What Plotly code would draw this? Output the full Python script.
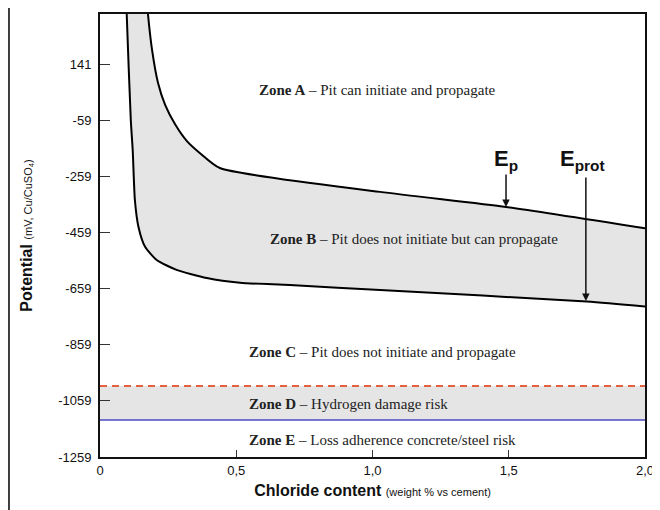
import plotly.graph_objects as go

# ---- data ----
ep_x = [0.172, 0.176, 0.191, 0.213, 0.239, 0.275, 0.319, 0.367, 0.440, 1.028, 1.49, 2.0]
ep_y = [370, 320, 192, 74, -4, -72, -133, -176, -229, -314, -368, -444]

eprot_x = [0.0965, 0.098, 0.113, 0.120, 0.128, 0.141, 0.165, 0.208, 0.281, 0.392, 0.514, 0.697, 1.028, 1.786, 2.0]
eprot_y = [370, 320, -58, -165, -343, -438, -509, -557, -592, -621, -638, -646, -664, -705, -723]

band_x = [0, 2.0]
hydrogen_limit = -1006      # red dashed line
adherence_limit = -1127     # blue line

x_tickvals = [0, 0.5, 1.0, 1.5, 2.0]
x_ticktext = ["0", "0,5", "1,0", "1,5", "2,0"]
y_tickvals = [141, -59, -259, -459, -659, -859, -1059, -1259]
y_ticktext = ["141", "-59", "-259", "-459", "-659", "-859", "-1059", "-1259"]

zone_labels = [
    ("<b>Zone A</b> – Pit can initiate and propagate", 0.576, 49),
    ("<b>Zone B</b> – Pit does not initiate but can propagate", 0.617, -482),
    ("<b>Zone C</b> – Pit does not initiate and propagate", 0.539, -885),
    ("<b>Zone D</b> – Hydrogen damage risk", 0.539, -1070),
    ("<b>Zone E</b> – Loss adherence concrete/steel risk", 0.539, -1198),
]

ep_arrow = dict(x=1.49, head=-368, tail=-247, label_y=-200)
eprot_arrow = dict(x=1.783, head=-703, tail=-257, label_y=-200, label_x=1.772)

GRAY = "#e5e5e5"

fig = go.Figure()

# Zone B fill between curves
fig.add_trace(go.Scatter(x=eprot_x, y=eprot_y, mode="lines",
                         line=dict(color="black", width=2, shape="spline", smoothing=0.6),
                         showlegend=False, hoverinfo="skip"))
fig.add_trace(go.Scatter(x=ep_x, y=ep_y, mode="lines", fill="tonexty", fillcolor=GRAY,
                         line=dict(color="black", width=2, shape="spline", smoothing=0.6),
                         showlegend=False, hoverinfo="skip"))

# Zone D band
fig.add_trace(go.Scatter(x=band_x, y=[adherence_limit] * 2, mode="lines",
                         line=dict(color="#4b4bc4", width=1.5),
                         showlegend=False, hoverinfo="skip"))
fig.add_trace(go.Scatter(x=band_x, y=[hydrogen_limit] * 2, mode="lines", fill="tonexty",
                         fillcolor=GRAY,
                         line=dict(color="#e5603f", width=2, dash="7px,5px"),
                         showlegend=False, hoverinfo="skip"))

annotations = []
for txt, x, y in zone_labels:
    annotations.append(dict(x=x, y=y, xref="x", yref="y", text=txt, showarrow=False,
                            xanchor="left", yanchor="middle",
                            font=dict(family="Liberation Serif", size=15, color="#222")))

# arrows
for a in (ep_arrow, eprot_arrow):
    annotations.append(dict(x=a["x"], y=a["head"], ax=a["x"], ay=a["tail"], xref="x", yref="y",
                            axref="x", ayref="y", text="", showarrow=True, arrowhead=2,
                            arrowsize=1, arrowwidth=1.5, arrowcolor="#111", standoff=0))

annotations.append(dict(x=ep_arrow["x"], y=ep_arrow["label_y"], xref="x", yref="y",
                        text="<b>E<sub>p</sub></b>", showarrow=False,
                        font=dict(family="Liberation Sans", size=22, color="#111")))
annotations.append(dict(x=eprot_arrow["label_x"], y=eprot_arrow["label_y"], xref="x", yref="y",
                        text="<b>E<sub>prot</sub></b>", showarrow=False,
                        font=dict(family="Liberation Sans", size=22, color="#111")))

# page body has an 8px margin, so the figure is 8px smaller than the window
fig.update_layout(
    width=652, height=502,
    margin=dict(l=92, r=15, t=6, b=53),
    paper_bgcolor="white", plot_bgcolor="white",
    font=dict(family="Liberation Sans", size=13, color="#111"),
    annotations=annotations,
    shapes=[dict(type="line", xref="paper", yref="paper", x0=-0.1670, x1=-0.1670,
                 y0=-0.13, y1=1.02, line=dict(color="black", width=1.5))],
)

fig.update_xaxes(range=[0, 2.0], tickvals=x_tickvals, ticktext=x_ticktext, automargin=False,
                 showgrid=False, zeroline=False, showline=True, mirror=True,
                 linecolor="#111", linewidth=2, ticks="inside", ticklen=7, tickcolor="#333",
                 tickfont=dict(family="Liberation Sans", size=13, color="#111"),
                 title=dict(text="<b>Chloride content</b> <span style='font-size:11px'>(weight % vs cement)</span>",
                            font=dict(family="Liberation Sans", size=16, color="#111"), standoff=8))
fig.update_yaxes(range=[-1259, 320], tickvals=y_tickvals, ticktext=y_ticktext, automargin=False,
                 showgrid=False, zeroline=False, showline=True, mirror=True,
                 linecolor="#111", linewidth=2, ticks="inside", ticklen=10, tickcolor="#333",
                 ticklabelstandoff=4,
                 tickfont=dict(family="Liberation Sans", size=13, color="#111"),
                 title=dict(text="<b>Potential</b> <span style='font-size:11px'>(mV, Cu/CuSO<sub>4</sub>)</span>",
                            font=dict(family="Liberation Sans", size=16, color="#111"), standoff=22))

fig.write_html("out.html")
